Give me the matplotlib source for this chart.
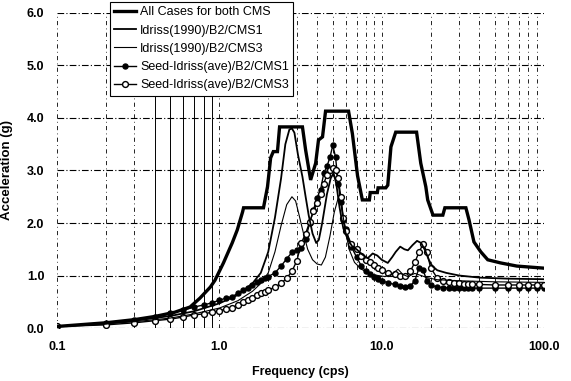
import numpy as np
import matplotlib
matplotlib.use("Agg")
import matplotlib.pyplot as plt
from matplotlib.ticker import FixedLocator, NullFormatter

plt.rcParams['font.family'] = ['Liberation Sans Narrow', 'Liberation Sans', 'DejaVu Sans']

# envelope of all cases (thick line)
env_freq = [0.1, 0.2, 0.3, 0.4, 0.53, 0.66, 0.76, 0.88, 0.94, 1.06, 1.2, 1.29, 1.39, 1.41,
            1.87, 1.98, 2.07, 2.15, 2.28, 2.35, 3.25, 3.40, 3.65, 3.92, 4.08, 4.32, 4.51,
            6.25, 6.6, 7.1, 7.6, 8.4, 8.5, 9.4, 9.5, 10.6, 10.9, 11.4, 12.2, 16.4, 17.4,
            18.7, 19.2, 20.7, 23.8, 24.5, 33.0, 34.5, 37.0, 40.8, 45.0, 54.0, 68.0, 100.0]
env_acc = [0.03, 0.10, 0.16, 0.22, 0.30, 0.40, 0.57, 0.78, 0.91, 1.24, 1.62, 1.87, 2.21, 2.29,
           2.29, 2.69, 3.24, 3.36, 3.36, 3.83, 3.83, 3.39, 2.82, 3.14, 3.58, 3.64, 4.13,
           4.13, 3.70, 2.90, 2.44, 2.44, 2.58, 2.58, 2.67, 2.67, 2.72, 3.45, 3.73, 3.73, 3.14,
           2.69, 2.44, 2.15, 2.15, 2.29, 2.29, 2.06, 1.64, 1.45, 1.30, 1.24, 1.18, 1.14]

# Idriss(1990)/B2/CMS1
id1_freq = [0.1, 0.2, 0.3, 0.5, 0.7, 1.0, 1.3, 1.6, 1.8, 2.0, 2.2, 2.4, 2.55, 2.7, 2.8, 2.9,
            3.05, 3.25, 3.4, 3.55, 3.75, 3.95, 4.1, 4.3, 4.6, 4.85, 5.05, 5.25, 5.5, 5.8,
            6.2, 6.6, 7.0, 7.6, 8.2, 8.8, 9.4, 10.0, 10.9, 11.6, 12.2, 13.0, 13.8, 14.5,
            15.5, 16.5, 17.5, 18.5, 19.5, 20.5, 22, 25, 30, 40, 60, 100]
id1_acc = [0.03, 0.09, 0.14, 0.23, 0.32, 0.47, 0.63, 0.85, 1.05, 1.45, 2.10, 2.85, 3.50, 3.78,
           3.80, 3.72, 3.30, 2.88, 2.50, 2.15, 1.80, 1.62, 1.68, 2.00, 2.55, 2.85, 2.95,
           2.75, 2.30, 1.90, 1.68, 1.55, 1.50, 1.40, 1.33, 1.42, 1.38, 1.30, 1.24, 1.35,
           1.45, 1.55, 1.50, 1.48, 1.58, 1.66, 1.62, 1.48, 1.30, 1.18, 1.10, 1.05, 1.00,
           0.96, 0.94, 0.93]

# Idriss(1990)/B2/CMS3
id3_freq = [0.1, 0.2, 0.3, 0.5, 0.7, 1.0, 1.3, 1.6, 1.8, 2.0, 2.2, 2.4, 2.6, 2.8, 2.95, 3.1,
            3.3, 3.5, 3.75, 4.0, 4.25, 4.5, 4.8, 5.1, 5.4, 5.65, 5.9, 6.3, 6.8, 7.5, 8.5,
            9.5, 10.5, 11.5, 12.6, 13.5, 14.5, 16, 17.5, 19, 22, 30, 50, 100]
id3_acc = [0.03, 0.08, 0.12, 0.19, 0.27, 0.38, 0.52, 0.70, 0.85, 1.05, 1.45, 1.95, 2.35, 2.50,
           2.42, 2.15, 1.80, 1.50, 1.30, 1.22, 1.20, 1.35, 1.75, 2.20, 2.48, 2.35, 1.95,
           1.50, 1.25, 1.12, 1.03, 1.00, 0.98, 1.02, 1.12, 1.02, 0.98, 1.04, 1.00, 0.96,
           0.92, 0.90, 0.88, 0.87]

# Seed-Idriss(ave) spectra, both on the same frequencies
seed_freq = [0.1, 0.2, 0.3, 0.4, 0.5, 0.6, 0.7, 0.8, 0.9, 1.0,
             1.1, 1.2, 1.3, 1.4, 1.5, 1.6, 1.7, 1.8, 1.9, 2.0,
             2.2, 2.4, 2.6, 2.8, 3.0, 3.2, 3.4, 3.6, 3.8, 4.0,
             4.2, 4.4, 4.6, 4.8, 5.0, 5.2, 5.4, 5.6, 5.8, 6.0,
             6.5, 7.0, 7.5, 8.0, 8.5, 9.0, 9.5, 10.0,
             11, 12, 13, 14, 15, 16, 17, 18, 19, 20,
             22, 24, 26, 28, 30, 32, 34, 36, 40, 50, 60, 70, 80, 90, 100]
seed1_acc = [0.03, 0.10, 0.15, 0.21, 0.28, 0.34, 0.40, 0.44, 0.48, 0.53,
             0.57, 0.60, 0.66, 0.72, 0.77, 0.82, 0.87, 0.91, 0.95, 0.98,
             1.05, 1.18, 1.32, 1.44, 1.49, 1.52, 1.70, 2.00, 2.25, 2.48,
             2.63, 2.95, 3.08, 3.25, 3.48, 3.25, 2.75, 2.40, 2.06, 1.88,
             1.55, 1.35, 1.18, 1.08, 1.02, 0.97, 0.93, 0.90,
             0.86, 0.83, 0.80, 0.79, 0.80, 0.90, 1.15, 1.10, 0.90, 0.82,
             0.78, 0.77, 0.77, 0.77, 0.77, 0.77, 0.76, 0.76, 0.76, 0.76, 0.76, 0.76, 0.76, 0.76, 0.76]
seed3_acc = [0.03, 0.06, 0.10, 0.14, 0.17, 0.21, 0.25, 0.27, 0.30, 0.33,
             0.36, 0.39, 0.44, 0.50, 0.54, 0.58, 0.62, 0.66, 0.69, 0.72,
             0.78, 0.85, 0.95, 1.08, 1.28, 1.62, 1.80, 2.02, 2.22, 2.38,
             2.55, 2.75, 2.92, 3.00, 3.05, 3.00, 2.85, 2.50, 2.10, 1.85,
             1.60, 1.50, 1.38, 1.30, 1.25, 1.20, 1.14, 1.10,
             1.05, 1.02, 1.00, 1.00, 1.08, 1.25, 1.45, 1.60, 1.45, 1.15,
             0.95, 0.90, 0.88, 0.86, 0.85, 0.84, 0.84, 0.83, 0.83, 0.82, 0.82, 0.82, 0.82, 0.82, 0.82]

x_ticks = [0.1, 1.0, 10.0, 100.0]
x_labels = ['0.1', '1.0', '10.0', '100.0']
y_ticks = [0, 1, 2, 3, 4, 5, 6]
y_labels = ['0.0', '1.0', '2.0', '3.0', '4.0', '5.0', '6.0']

fig = plt.figure(figsize=(5.71, 3.81), dpi=100)
ax = fig.add_axes([0.0998, 0.139, 0.853, 0.827])

ax.set_xscale('log')
ax.set_xlim(0.1, 100)
ax.set_ylim(0, 6)

# grid: dash-dot everywhere, solid thin lines in the 0.4-0.9 band
for yv in y_ticks:
    ax.axhline(yv, color='black', lw=0.8, ls=(0, (6, 2, 1, 2)), zorder=0)
for dec in [0.1, 1.0, 10.0]:
    for m in range(1, 10):
        xv = dec * m
        if dec == 0.1 and 4 <= m <= 9:
            ax.axvline(xv, color='black', lw=0.7, ls='-', zorder=0)
        else:
            ax.axvline(xv, color='black', lw=0.6, ls=(0, (5, 4, 1, 4)), zorder=0)
ax.axvline(100, color='black', lw=0.6, ls=(0, (5, 4, 1, 4)), zorder=0)

for s in ax.spines.values():
    s.set_visible(False)

ax.plot(env_freq, env_acc, color='black', lw=2.4, solid_joinstyle='miter',
        label='All Cases for both CMS', zorder=5)
ax.plot(id1_freq, id1_acc, color='black', lw=1.3, label='Idriss(1990)/B2/CMS1', zorder=4)
ax.plot(id3_freq, id3_acc, color='black', lw=0.8, label='Idriss(1990)/B2/CMS3', zorder=4)
ax.plot(seed_freq, seed1_acc, color='black', lw=1.0, marker='o', ms=3.6,
        mfc='black', mec='black', label='Seed-Idriss(ave)/B2/CMS1', zorder=3)
ax.plot(seed_freq, seed3_acc, color='black', lw=1.0, marker='o', ms=4.2,
        mfc='white', mec='black', mew=1.0, label='Seed-Idriss(ave)/B2/CMS3', zorder=3)

ax.xaxis.set_major_locator(FixedLocator(x_ticks))
ax.xaxis.set_minor_formatter(NullFormatter())
ax.set_xticks(x_ticks)
ax.set_xticklabels(x_labels)
ax.set_yticks(y_ticks)
ax.set_yticklabels(y_labels)
ax.tick_params(which='both', length=0, labelsize=9, pad=9)
for lab in ax.get_xticklabels() + ax.get_yticklabels():
    lab.set_fontweight('bold')

ax.set_xlabel('Frequency (cps)', fontsize=9, fontweight='bold', labelpad=10)
ax.set_ylabel('Acceleration (g)', fontsize=9.5, fontweight='bold', labelpad=10)

leg = ax.legend(loc='upper left', bbox_to_anchor=(0.108, 1.035), fontsize=9,
                frameon=True, fancybox=False, framealpha=1, edgecolor='black',
                handlelength=1.8, handletextpad=0.3, borderpad=0.35, labelspacing=0.5,
                borderaxespad=0)
leg.get_frame().set_linewidth(0.8)
leg.set_zorder(10)

fig.savefig('out.png', dpi=100)
